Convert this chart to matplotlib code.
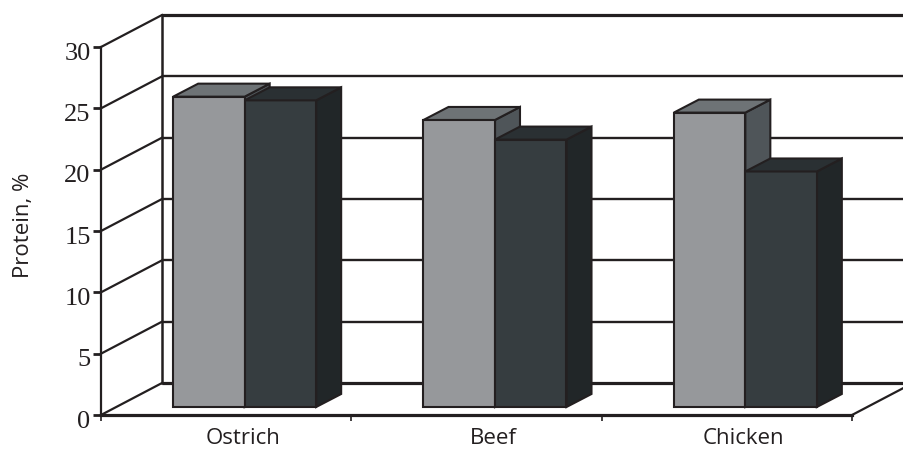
#!/usr/bin/env python3
"""Protein content of meats, drawn as a pseudo-3D clustered bar chart."""

import numpy as np
import matplotlib
matplotlib.use("Agg")
import matplotlib.pyplot as plt
from matplotlib.patches import Polygon
from matplotlib.transforms import ScaledTranslation

categories = ["Ostrich", "Beef", "Chicken"]
series_a = [25.3, 23.4, 24.0]
series_b = [25.0, 21.8, 19.2]
y_ticks = [0, 5, 10, 15, 20, 25, 30]

INK = "#231f20"
LIGHT = ("#96989b", "#6e7376", "#4f5559")   # front, top, side
DARK = ("#363d40", "#2a3033", "#212628")

W, H = 904, 451
fig = plt.figure(figsize=(W / 100, H / 100), dpi=100)
ax = fig.add_axes([101 / W, 1 - 415 / H, 751 / W, 368 / H])
ax.set_xlim(0, 3)
ax.set_ylim(0, 30)

# pixel offsets expressed in data units
px_x = 3 / 751
px_y = 30 / 368
wall_dx, wall_dy = 61 * px_x, 32 * px_y
depth_dx, depth_dy = 25 * px_x, 13 * px_y
bar_w = 71.5 * px_x
base_dy = 8 * px_y
group_shift = 18.5 * px_x

# ── walls and gridlines ──────────────────────────────────────────────────────
for v in y_ticks:
    thick = v in (0, 30)
    ax.plot([wall_dx, 3 + wall_dx], [v + wall_dy] * 2, color=INK,
            lw=2.3 if thick else 1.7, clip_on=False, zorder=1,
            solid_capstyle="butt")
    ax.plot([0, wall_dx], [v, v + wall_dy], color=INK, lw=1.6,
            clip_on=False, zorder=1)
ax.plot([wall_dx, wall_dx], [wall_dy, 30 + wall_dy], color=INK, lw=1.8,
        clip_on=False, zorder=1)
ax.plot([3, 3 + wall_dx], [0, wall_dy], color=INK, lw=1.6,
        clip_on=False, zorder=1)


def draw_bars(xs, values, colors):
    front, top, side = colors
    ax.bar(xs, values, width=bar_w, bottom=base_dy, align="edge", color=front,
           edgecolor=INK, linewidth=1.5, clip_on=False, zorder=3)
    for x, v in zip(xs, values):
        y = v + base_dy
        ax.add_patch(Polygon(
            [(x, y), (x + depth_dx, y + depth_dy),
             (x + bar_w + depth_dx, y + depth_dy), (x + bar_w, y)],
            closed=True, fc=top, ec=INK, lw=1.5, clip_on=False, zorder=3))
        ax.add_patch(Polygon(
            [(x + bar_w, base_dy), (x + bar_w + depth_dx, base_dy + depth_dy),
             (x + bar_w + depth_dx, y + depth_dy), (x + bar_w, y)],
            closed=True, fc=side, ec=INK, lw=1.5, clip_on=False, zorder=2.5))


centers = np.arange(len(categories)) + 0.5 + group_shift
draw_bars(centers - bar_w, series_a, LIGHT)
draw_bars(centers, series_b, DARK)

# ── axes ─────────────────────────────────────────────────────────────────────
for name in ("top", "right"):
    ax.spines[name].set_visible(False)
ax.spines["left"].set_color(INK)
ax.spines["left"].set_linewidth(1.6)
ax.spines["bottom"].set_color(INK)
ax.spines["bottom"].set_linewidth(2.3)
ax.spines["bottom"].set_zorder(2)
ax.patch.set_alpha(0)

ax.set_yticks(y_ticks)
ax.set_yticklabels([str(v) for v in y_ticks], family="Liberation Serif",
                   fontsize=19, color=INK)
ax.tick_params(axis="y", length=5.5, width=2.0, color=INK, pad=2)
for lab in ax.get_yticklabels():
    lab.set_transform(lab.get_transform()
                      + ScaledTranslation(0, -4 / 100, fig.dpi_scale_trans))

ax.set_xticks([0, 1, 2, 3])
ax.set_xticklabels([])
ax.tick_params(axis="x", which="major", length=4.5, width=1.2, color=INK)
ax.set_xticks(np.arange(len(categories)) + 0.5 + 16.5 * px_x, categories, minor=True,
              family="Open Sans", fontsize=16, color=INK)
ax.tick_params(axis="x", which="minor", length=0, pad=9)

fig.text(24 / W, 1 - 225 / H, "Protein, %", rotation=90, ha="center", va="center",
         family="Open Sans", fontsize=16, color=INK)

fig.savefig("out.png", dpi=100)
